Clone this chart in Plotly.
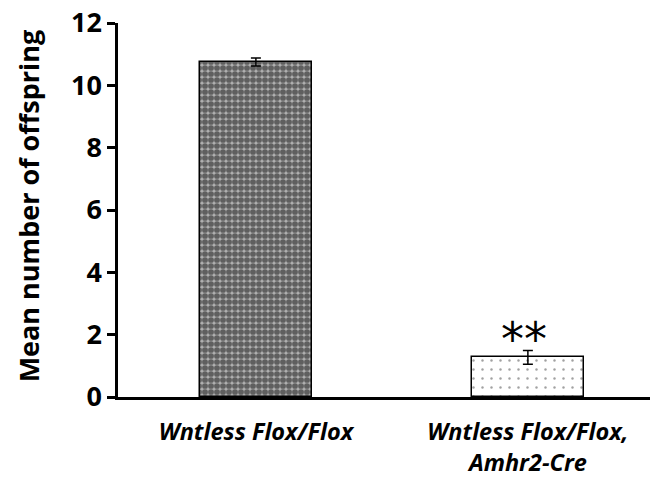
import plotly.graph_objects as go

categories = ["Wntless Flox/Flox", "Wntless Flox/Flox,<br>Amhr2-Cre"]
means = [10.75, 1.27]
errors = [0.13, 0.22]
significance = ["", "**"]
y_title = "Mean number of offspring"

x_pos = [0, 1]

fig = go.Figure()
fig.add_trace(go.Bar(
    x=[x_pos[0]], y=[means[0]],
    width=0.41,
    error_y=dict(type="data", array=[errors[0]], color="black", thickness=1.5, width=5),
    marker=dict(color="#333333", line=dict(color="black", width=1.5),
                pattern=dict(shape=".", bgcolor="#b0b0b0", fgcolor="#0d0d0d", size=6, solidity=0.72)),
    showlegend=False,
))
fig.add_trace(go.Bar(
    x=[x_pos[1]], y=[means[1]],
    width=0.41,
    error_y=dict(type="data", array=[errors[1]], color="black", thickness=1.5, width=5),
    marker=dict(color="white", line=dict(color="black", width=1.5),
                pattern=dict(shape=".", bgcolor="white", fgcolor="#444444", size=9, solidity=0.06)),
    showlegend=False,
))

for xp, m, e, s in zip(x_pos, means, errors, significance):
    if s:
        fig.add_annotation(x=xp, y=m + e, text=s, showarrow=False, yanchor="bottom", yshift=-17,
                           xshift=-4,
                           font=dict(family="DejaVu Sans", size=46, color="black"))

fig.add_annotation(xref="paper", yref="paper", x=-0.169, y=0.51, text=y_title,
                   textangle=-90, showarrow=False, xanchor="center", yanchor="middle",
                   font=dict(family="Open Sans", size=27, color="black", weight="bold"))

fig.update_layout(
    width=653, height=481,
    margin=dict(l=118, r=3, t=20, b=83),
    plot_bgcolor="white", paper_bgcolor="white",
    bargap=0,
    xaxis=dict(
        range=[-0.507, 1.449],
        tickvals=x_pos, ticktext=categories,
        showline=True, linecolor="black", linewidth=2.5,
        ticks="", showgrid=False, zeroline=False,
        ticklabelstandoff=12,
        tickfont=dict(family="Open Sans", size=23.5, color="black", weight="bold", style="italic"),
    ),
    yaxis=dict(
        range=[0, 12], tickvals=[0, 2, 4, 6, 8, 10, 12],
        showline=True, linecolor="black", linewidth=2.5,
        ticks="outside", ticklen=8, tickwidth=2.5, tickcolor="black",
        showgrid=False, zeroline=False, ticklabeloverflow="allow",
        tickfont=dict(family="Open Sans", size=27, color="black", weight="bold"),
    ),
)

fig.write_html("out.html", config={"displayModeBar": False},
               post_script="document.body.style.margin='0px';")
